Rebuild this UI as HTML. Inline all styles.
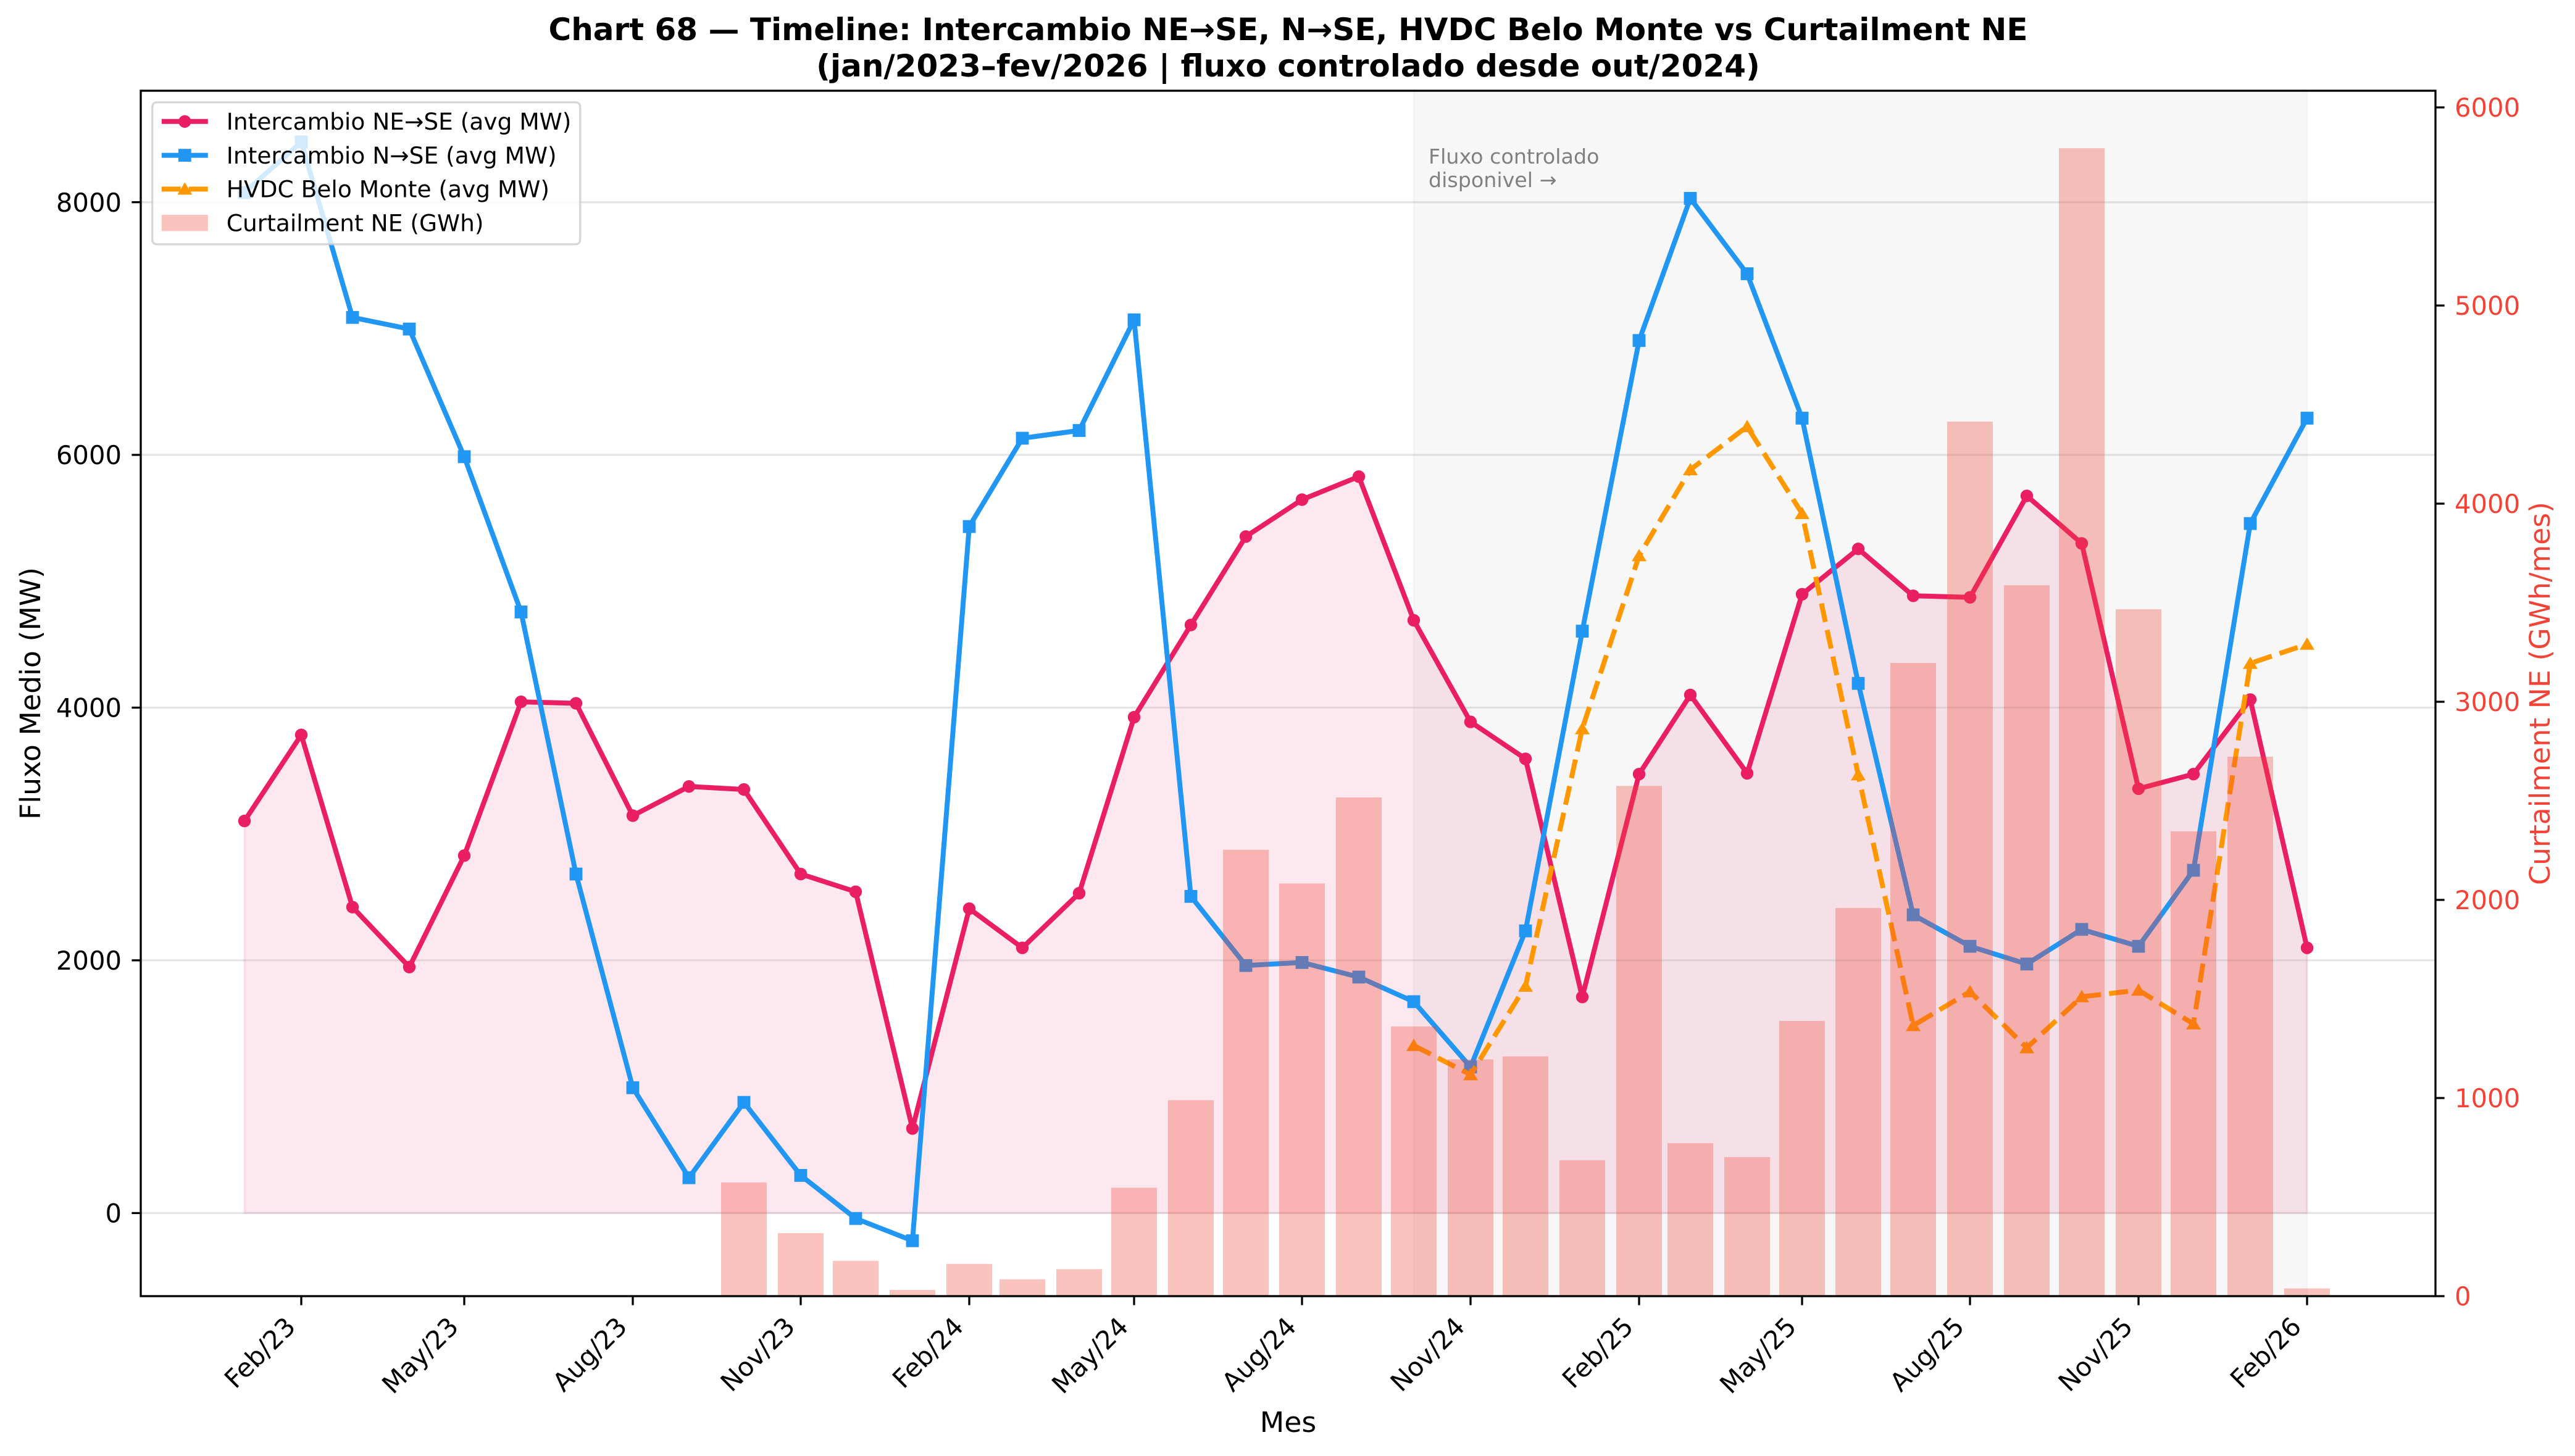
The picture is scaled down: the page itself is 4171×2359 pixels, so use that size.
<!DOCTYPE html>
<html><head><meta charset="utf-8"><style>
html,body{margin:0;padding:0;background:#fff;}
svg{display:block;}
text{font-family:"DejaVu Sans","Liberation Sans",sans-serif;}
</style></head><body>
<svg xmlns="http://www.w3.org/2000/svg" width="4171" height="2359" viewBox="0 0 4171 2359">
<rect x="0" y="0" width="4171" height="2359" fill="#ffffff"/>
<!-- controlled-flow span -->
<rect x="2290" y="147" width="1447" height="1953" fill="rgba(128,128,128,0.063)" stroke="rgba(128,128,128,0.06)" stroke-width="3"/>
<!-- fill under red -->
<polygon fill="rgba(233,30,99,0.1)" stroke="rgba(233,30,99,0.1)" stroke-width="3.3" points="396,1965.4 396,1330.1 488,1190.7 571,1469.7 663,1566.8 752,1386.2 844,1137.1 933,1139.5 1025,1321.5 1116,1274.2 1205,1279.1 1297,1416.1 1386,1444.8 1478,1828.4 1570,1472.2 1656,1535.7 1748,1447.2 1837,1162 1929,1012.6 2018,869.3 2109,809.5 2201,772.2 2290,1005 2382,1169.6 2471,1229.4 2563,1615.3 2655,1254.2 2738,1126 2830,1252.9 2919,962.8 3010,889.3 3099,965.3 3191,967.8 3283,803.4 3372,880.5 3464,1277.9 3553,1254.2 3645,1133.4 3737,1535.7 3737,1965.4"/>
<!-- gridlines -->
<g stroke="rgba(176,176,176,0.33)" stroke-width="3.3">
<line x1="228" y1="1965.4" x2="3945" y2="1965.4"/>
<line x1="228" y1="1555.9" x2="3945" y2="1555.9"/>
<line x1="228" y1="1146.5" x2="3945" y2="1146.5"/>
<line x1="228" y1="737" x2="3945" y2="737"/>
<line x1="228" y1="327.6" x2="3945" y2="327.6"/>
</g>
<!-- red series -->
<polyline fill="none" stroke="#e91e63" stroke-width="8" stroke-linejoin="round" points="396,1330.1 488,1190.7 571,1469.7 663,1566.8 752,1386.2 844,1137.1 933,1139.5 1025,1321.5 1116,1274.2 1205,1279.1 1297,1416.1 1386,1444.8 1478,1828.4 1570,1472.2 1656,1535.7 1748,1447.2 1837,1162 1929,1012.6 2018,869.3 2109,809.5 2201,772.2 2290,1005 2382,1169.6 2471,1229.4 2563,1615.3 2655,1254.2 2738,1126 2830,1252.9 2919,962.8 3010,889.3 3099,965.3 3191,967.8 3283,803.4 3372,880.5 3464,1277.9 3553,1254.2 3645,1133.4 3737,1535.7"/>
<g fill="#e91e63">
<circle cx="396" cy="1330.1" r="10.2"/><circle cx="488" cy="1190.7" r="10.2"/><circle cx="571" cy="1469.7" r="10.2"/><circle cx="663" cy="1566.8" r="10.2"/><circle cx="752" cy="1386.2" r="10.2"/><circle cx="844" cy="1137.1" r="10.2"/><circle cx="933" cy="1139.5" r="10.2"/><circle cx="1025" cy="1321.5" r="10.2"/><circle cx="1116" cy="1274.2" r="10.2"/><circle cx="1205" cy="1279.1" r="10.2"/><circle cx="1297" cy="1416.1" r="10.2"/><circle cx="1386" cy="1444.8" r="10.2"/><circle cx="1478" cy="1828.4" r="10.2"/><circle cx="1570" cy="1472.2" r="10.2"/><circle cx="1656" cy="1535.7" r="10.2"/><circle cx="1748" cy="1447.2" r="10.2"/><circle cx="1837" cy="1162" r="10.2"/><circle cx="1929" cy="1012.6" r="10.2"/><circle cx="2018" cy="869.3" r="10.2"/><circle cx="2109" cy="809.5" r="10.2"/><circle cx="2201" cy="772.2" r="10.2"/><circle cx="2290" cy="1005" r="10.2"/><circle cx="2382" cy="1169.6" r="10.2"/><circle cx="2471" cy="1229.4" r="10.2"/><circle cx="2563" cy="1615.3" r="10.2"/><circle cx="2655" cy="1254.2" r="10.2"/><circle cx="2738" cy="1126" r="10.2"/><circle cx="2830" cy="1252.9" r="10.2"/><circle cx="2919" cy="962.8" r="10.2"/><circle cx="3010" cy="889.3" r="10.2"/><circle cx="3099" cy="965.3" r="10.2"/><circle cx="3191" cy="967.8" r="10.2"/><circle cx="3283" cy="803.4" r="10.2"/><circle cx="3372" cy="880.5" r="10.2"/><circle cx="3464" cy="1277.9" r="10.2"/><circle cx="3553" cy="1254.2" r="10.2"/><circle cx="3645" cy="1133.4" r="10.2"/><circle cx="3737" cy="1535.7" r="10.2"/>
</g>
<!-- blue series -->
<polyline fill="none" stroke="#2196f3" stroke-width="8" stroke-linejoin="round" points="396,312 488,230 571,514.3 663,533.1 752,739.9 844,991.5 933,1416.1 1025,1762.3 1116,1908.1 1205,1786.1 1297,1904.4 1386,1974.2 1478,2010.2 1570,853.1 1656,710 1748,697.5 1837,518.2 1929,1452.3 2018,1564.3 2109,1559.4 2201,1583 2290,1622.9 2382,1728.7 2471,1508.2 2563,1022.6 2655,551.7 2738,321.4 2830,443.5 2919,677.5 3010,1107.2 3099,1482.2 3191,1533.2 3283,1561.9 3372,1505.8 3464,1533.2 3553,1410 3645,848.2 3737,677.5"/>
<g fill="#2196f3">
<rect x="385.6" y="301.6" width="20.8" height="20.8"/><rect x="477.6" y="219.6" width="20.8" height="20.8"/><rect x="560.6" y="503.9" width="20.8" height="20.8"/><rect x="652.6" y="522.7" width="20.8" height="20.8"/><rect x="741.6" y="729.5" width="20.8" height="20.8"/><rect x="833.6" y="981.1" width="20.8" height="20.8"/><rect x="922.6" y="1405.7" width="20.8" height="20.8"/><rect x="1014.6" y="1751.9" width="20.8" height="20.8"/><rect x="1105.6" y="1897.7" width="20.8" height="20.8"/><rect x="1194.6" y="1775.7" width="20.8" height="20.8"/><rect x="1286.6" y="1894" width="20.8" height="20.8"/><rect x="1375.6" y="1963.8" width="20.8" height="20.8"/><rect x="1467.6" y="1999.8" width="20.8" height="20.8"/><rect x="1559.6" y="842.7" width="20.8" height="20.8"/><rect x="1645.6" y="699.6" width="20.8" height="20.8"/><rect x="1737.6" y="687.1" width="20.8" height="20.8"/><rect x="1826.6" y="507.8" width="20.8" height="20.8"/><rect x="1918.6" y="1441.9" width="20.8" height="20.8"/><rect x="2007.6" y="1553.9" width="20.8" height="20.8"/><rect x="2098.6" y="1549" width="20.8" height="20.8"/><rect x="2190.6" y="1572.6" width="20.8" height="20.8"/><rect x="2279.6" y="1612.5" width="20.8" height="20.8"/><rect x="2371.6" y="1718.3" width="20.8" height="20.8"/><rect x="2460.6" y="1497.8" width="20.8" height="20.8"/><rect x="2552.6" y="1012.2" width="20.8" height="20.8"/><rect x="2644.6" y="541.3" width="20.8" height="20.8"/><rect x="2727.6" y="311" width="20.8" height="20.8"/><rect x="2819.6" y="433.1" width="20.8" height="20.8"/><rect x="2908.6" y="667.1" width="20.8" height="20.8"/><rect x="2999.6" y="1096.8" width="20.8" height="20.8"/><rect x="3088.6" y="1471.8" width="20.8" height="20.8"/><rect x="3180.6" y="1522.8" width="20.8" height="20.8"/><rect x="3272.6" y="1551.5" width="20.8" height="20.8"/><rect x="3361.6" y="1495.4" width="20.8" height="20.8"/><rect x="3453.6" y="1522.8" width="20.8" height="20.8"/><rect x="3542.6" y="1399.6" width="20.8" height="20.8"/><rect x="3634.6" y="837.8" width="20.8" height="20.8"/><rect x="3726.6" y="667.1" width="20.8" height="20.8"/>
</g>
<!-- orange series -->
<polyline fill="none" stroke="#ff9800" stroke-width="8" stroke-dasharray="30.8 13.3" stroke-linejoin="round" points="2290,1693.9 2382,1741.2 2471,1597.9 2563,1180.7 2655,900.4 2738,761 2830,691.2 2919,832 3010,1255.4 3099,1661.6 3191,1606.7 3283,1697.6 3372,1614.9 3464,1604.3 3553,1658.9 3645,1074.8 3737,1043.7"/>
<g fill="#ff9800">
<polygon points="2290,1682.9 2278,1702.9 2302,1702.9"/><polygon points="2382,1730.2 2370,1750.2 2394,1750.2"/><polygon points="2471,1586.9 2459,1606.9 2483,1606.9"/><polygon points="2563,1169.7 2551,1189.7 2575,1189.7"/><polygon points="2655,889.4 2643,909.4 2667,909.4"/><polygon points="2738,750 2726,770 2750,770"/><polygon points="2830,680.2 2818,700.2 2842,700.2"/><polygon points="2919,821 2907,841 2931,841"/><polygon points="3010,1244.4 2998,1264.4 3022,1264.4"/><polygon points="3099,1650.6 3087,1670.6 3111,1670.6"/><polygon points="3191,1595.7 3179,1615.7 3203,1615.7"/><polygon points="3283,1686.6 3271,1706.6 3295,1706.6"/><polygon points="3372,1603.9 3360,1623.9 3384,1623.9"/><polygon points="3464,1593.3 3452,1613.3 3476,1613.3"/><polygon points="3553,1647.9 3541,1667.9 3565,1667.9"/><polygon points="3645,1063.8 3633,1083.8 3657,1083.8"/><polygon points="3737,1032.7 3725,1052.7 3749,1052.7"/>
</g>
<!-- annotation -->
<text x="2314" y="265" font-size="33.3" fill="#808080">Fluxo controlado</text>
<text x="2314" y="303" font-size="33.3" fill="#808080">disponivel →</text>
<!-- legend -->
<rect x="246.75" y="165.75" width="693" height="230" rx="7" ry="7" fill="rgba(255,255,255,0.8)" stroke="rgba(204,204,204,0.8)" stroke-width="3.3"/>
<line x1="261.8" y1="196.8" x2="336.8" y2="196.8" stroke="#e91e63" stroke-width="8"/>
<circle cx="299.3" cy="196.8" r="10.2" fill="#e91e63"/>
<text x="366.8" y="210" font-size="37.5" fill="#000">Intercambio NE→SE (avg MW)</text>
<line x1="261.8" y1="251.6" x2="336.8" y2="251.6" stroke="#2196f3" stroke-width="8"/>
<rect x="288.9" y="241.2" width="20.8" height="20.8" fill="#2196f3"/>
<text x="366.8" y="264.8" font-size="37.5" fill="#000">Intercambio N→SE (avg MW)</text>
<line x1="261.8" y1="306.4" x2="336.8" y2="306.4" stroke="#ff9800" stroke-width="8" stroke-dasharray="30.8 13.3"/>
<polygon points="299.3,295.4 287.3,315.4 311.3,315.4" fill="#ff9800"/>
<text x="366.8" y="319.6" font-size="37.5" fill="#000">HVDC Belo Monte (avg MW)</text>
<rect x="261.8" y="348" width="75" height="26.3" fill="rgba(244,67,54,0.32)"/>
<text x="366.8" y="374.4" font-size="37.5" fill="#000">Curtailment NE (GWh)</text>
<!-- bars (twin axis, on top) -->
<g fill="rgba(244,67,54,0.32)">
<rect x="1168" y="1915.7" width="74" height="184.3"/><rect x="1260" y="1997.9" width="74" height="102.1"/><rect x="1349" y="2042.9" width="74" height="57.1"/><rect x="1441" y="2090" width="74" height="10"/><rect x="1533" y="2047.7" width="74" height="52.3"/><rect x="1619" y="2072.7" width="74" height="27.3"/><rect x="1711" y="2056.3" width="74" height="43.7"/><rect x="1800" y="1924.4" width="74" height="175.6"/><rect x="1892" y="1782.5" width="74" height="317.5"/><rect x="1981" y="1376.8" width="74" height="723.2"/><rect x="2072" y="1431.4" width="74" height="668.6"/><rect x="2164" y="1292" width="74" height="808"/><rect x="2253" y="1663.1" width="74" height="436.9"/><rect x="2345" y="1716.4" width="74" height="383.6"/><rect x="2434" y="1711.6" width="74" height="388.4"/><rect x="2526" y="1879.8" width="74" height="220.2"/><rect x="2618" y="1273.4" width="74" height="826.6"/><rect x="2701" y="1852.2" width="74" height="247.8"/><rect x="2793" y="1874.7" width="74" height="225.3"/><rect x="2882" y="1654.1" width="74" height="445.9"/><rect x="2973" y="1471.2" width="74" height="628.8"/><rect x="3062" y="1074.1" width="74" height="1025.9"/><rect x="3154" y="683.1" width="74" height="1416.9"/><rect x="3246" y="948.3" width="74" height="1151.7"/><rect x="3335" y="240.1" width="74" height="1859.9"/><rect x="3427" y="987.1" width="74" height="1112.9"/><rect x="3516" y="1346.9" width="74" height="753.1"/><rect x="3608" y="1225.9" width="74" height="874.1"/><rect x="3700" y="2087.5" width="74" height="12.5"/>
</g>
<!-- spines -->
<rect x="228" y="147" width="3717" height="1953" fill="none" stroke="#000" stroke-width="3.3"/>
<!-- ticks -->
<g stroke="#000" stroke-width="3.3">
<line x1="213.4" y1="1965.4" x2="228" y2="1965.4"/><line x1="213.4" y1="1555.9" x2="228" y2="1555.9"/><line x1="213.4" y1="1146.5" x2="228" y2="1146.5"/><line x1="213.4" y1="737" x2="228" y2="737"/><line x1="213.4" y1="327.6" x2="228" y2="327.6"/>
<line x1="3945" y1="2100" x2="3959.6" y2="2100"/><line x1="3945" y1="1779" x2="3959.6" y2="1779"/><line x1="3945" y1="1458" x2="3959.6" y2="1458"/><line x1="3945" y1="1137" x2="3959.6" y2="1137"/><line x1="3945" y1="816" x2="3959.6" y2="816"/><line x1="3945" y1="495" x2="3959.6" y2="495"/><line x1="3945" y1="174" x2="3959.6" y2="174"/>
<line x1="488" y1="2100" x2="488" y2="2114.6"/><line x1="752" y1="2100" x2="752" y2="2114.6"/><line x1="1025" y1="2100" x2="1025" y2="2114.6"/><line x1="1297" y1="2100" x2="1297" y2="2114.6"/><line x1="1570" y1="2100" x2="1570" y2="2114.6"/><line x1="1837" y1="2100" x2="1837" y2="2114.6"/><line x1="2109" y1="2100" x2="2109" y2="2114.6"/><line x1="2382" y1="2100" x2="2382" y2="2114.6"/><line x1="2655" y1="2100" x2="2655" y2="2114.6"/><line x1="2919" y1="2100" x2="2919" y2="2114.6"/><line x1="3191" y1="2100" x2="3191" y2="2114.6"/><line x1="3464" y1="2100" x2="3464" y2="2114.6"/><line x1="3737" y1="2100" x2="3737" y2="2114.6"/>
</g>
<!-- left tick labels -->
<g font-size="41.7" fill="#000" text-anchor="end">
<text x="197" y="1980.6">0</text><text x="197" y="1571.1">2000</text><text x="197" y="1161.7">4000</text><text x="197" y="752.2">6000</text><text x="197" y="342.8">8000</text>
</g>
<!-- right tick labels -->
<g font-size="41.7" fill="#f44336" text-anchor="start">
<text x="3976" y="2115.2">0</text><text x="3976" y="1794.2">1000</text><text x="3976" y="1473.2">2000</text><text x="3976" y="1152.2">3000</text><text x="3976" y="831.2">4000</text><text x="3976" y="510.2">5000</text><text x="3976" y="189.2">6000</text>
</g>
<!-- x tick labels -->
<g font-size="41.7" fill="#000" text-anchor="end">
<text x="481" y="2152" transform="rotate(-45 481 2152)">Feb/23</text>
<text x="745" y="2152" transform="rotate(-45 745 2152)">May/23</text>
<text x="1018" y="2152" transform="rotate(-45 1018 2152)">Aug/23</text>
<text x="1290" y="2152" transform="rotate(-45 1290 2152)">Nov/23</text>
<text x="1563" y="2152" transform="rotate(-45 1563 2152)">Feb/24</text>
<text x="1830" y="2152" transform="rotate(-45 1830 2152)">May/24</text>
<text x="2102" y="2152" transform="rotate(-45 2102 2152)">Aug/24</text>
<text x="2375" y="2152" transform="rotate(-45 2375 2152)">Nov/24</text>
<text x="2648" y="2152" transform="rotate(-45 2648 2152)">Feb/25</text>
<text x="2912" y="2152" transform="rotate(-45 2912 2152)">May/25</text>
<text x="3184" y="2152" transform="rotate(-45 3184 2152)">Aug/25</text>
<text x="3457" y="2152" transform="rotate(-45 3457 2152)">Nov/25</text>
<text x="3730" y="2152" transform="rotate(-45 3730 2152)">Feb/26</text>
</g>
<!-- axis labels -->
<text x="2086.5" y="2320" font-size="45.8" fill="#000" text-anchor="middle">Mes</text>
<text x="65" y="1123.5" font-size="45.8" fill="#000" text-anchor="middle" transform="rotate(-90 65 1123.5)">Fluxo Medio (MW)</text>
<text x="4130" y="1123.5" font-size="45.8" fill="#f44336" text-anchor="middle" transform="rotate(-90 4130 1123.5)">Curtailment NE (GWh/mes)</text>
<!-- title -->
<text x="2086.5" y="65" font-size="50" font-weight="bold" fill="#000" text-anchor="middle">Chart 68 — Timeline: Intercambio NE→SE, N→SE, HVDC Belo Monte vs Curtailment NE</text>
<text x="2086.5" y="124" font-size="50" font-weight="bold" fill="#000" text-anchor="middle">(jan/2023–fev/2026 | fluxo controlado desde out/2024)</text>
</svg>
</body></html>
